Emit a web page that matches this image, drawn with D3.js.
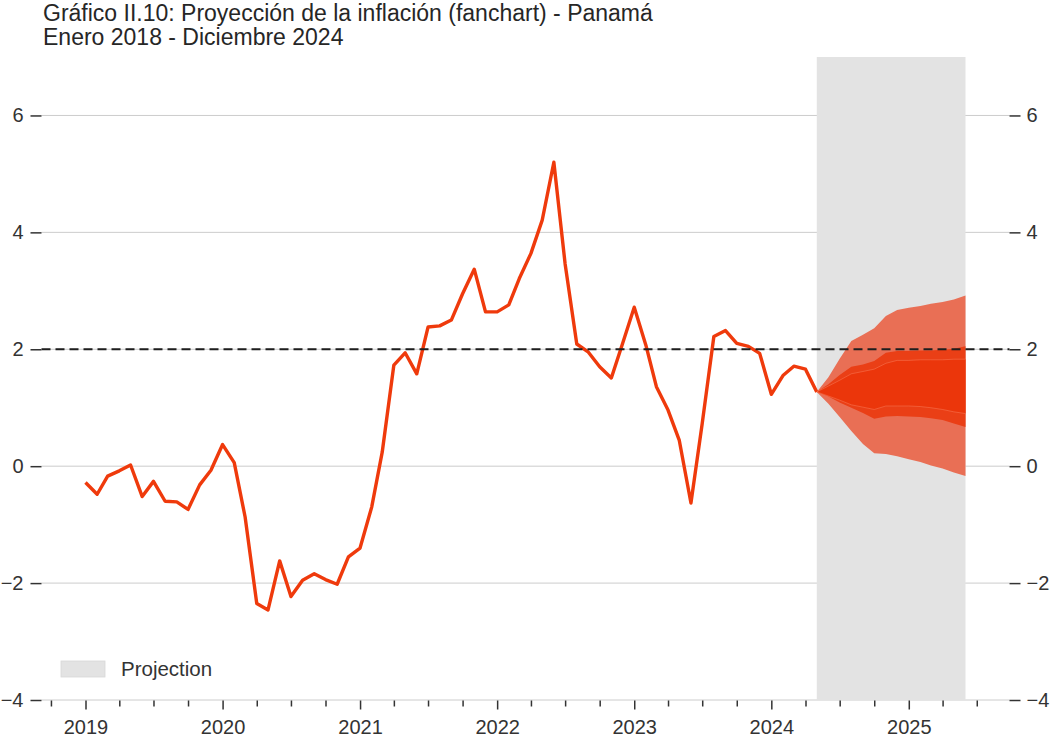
<!DOCTYPE html>
<html><head><meta charset="utf-8">
<script src="https://cdn.jsdelivr.net/npm/d3@7"></script>
<style>
body{margin:0;background:#fff}
text{font-family:"Liberation Sans",Arial,sans-serif}
</style>
</head><body>
<svg id="chart" width="1056" height="740"></svg>
<script>
// ---------------- DATA ----------------
const titleLines = ["Gráfico II.10: Proyección de la inflación (fanchart) - Panamá", "Enero 2018 - Diciembre 2024"];
const histStart = "2019-01";   // first month of observed series
const projStart = "2024-05";   // first month of projection (last observed month)
// Observed inflation (%), monthly Jan 2019 - May 2024
const inflation = [
  -0.28,-0.48,-0.17,-0.08,0.02,-0.52,-0.26,-0.60,-0.61,-0.74,-0.32,-0.07,
  0.37,0.06,-0.87,-2.35,-2.46,-1.62,-2.23,-1.95,-1.84,-1.94,-2.02,-1.55,
  -1.40,-0.70,0.24,1.73,1.94,1.58,2.38,2.40,2.50,2.95,3.37,2.64,
  2.64,2.76,3.21,3.64,4.21,5.20,3.46,2.09,1.95,1.70,1.51,2.10,
  2.72,2.07,1.36,0.96,0.44,-0.63,0.73,2.22,2.32,2.10,2.05,1.93,
  1.23,1.55,1.71,1.66,1.27
];
// Fan chart bands, monthly May 2024 - Jun 2025
const outerUpper  = [1.27,1.52,1.84,2.14,2.25,2.36,2.57,2.67,2.71,2.74,2.78,2.81,2.85,2.92];
const outerLower  = [1.27,1.07,0.84,0.60,0.38,0.22,0.21,0.17,0.12,0.07,0.01,-0.04,-0.11,-0.17];
const middleUpper = [1.27,1.40,1.56,1.70,1.74,1.80,1.94,1.97,1.97,1.98,1.98,1.99,2.01,2.05];
const middleLower = [1.27,1.19,1.09,1.00,0.91,0.81,0.85,0.86,0.85,0.84,0.82,0.79,0.73,0.67];
const innerUpper  = [1.27,1.37,1.47,1.58,1.62,1.66,1.76,1.81,1.81,1.82,1.82,1.82,1.83,1.83];
const innerLower  = [1.27,1.20,1.13,1.05,1.01,0.97,1.03,1.03,1.03,1.02,1.00,0.97,0.93,0.90];
const target = 2;
const yTicks = [-4,-2,0,2,4,6];
const yearTicks = [2019,2020,2021,2022,2023,2024,2025];
const legendLabel = "Projection";

// ---------------- BUILD ----------------
const parseM = d3.timeParse("%Y-%m");
const h0 = parseM(histStart), p0 = parseM(projStart);
const histDates = inflation.map((_, i) => d3.timeMonth.offset(h0, i));
const projDates = outerUpper.map((_, i) => d3.timeMonth.offset(p0, i));

const svg = d3.select("#chart");
const L = 41.5, R = 1009.5, T = 57, B = 700;
const tFirst = histDates[0], tLast = projDates[projDates.length - 1];
const span = tLast - tFirst;
const x = d3.scaleTime()
  .domain([new Date(+tFirst - 0.05 * span), new Date(+tLast + 0.05 * span)])
  .range([L, R]);
const y = d3.scaleLinear().domain([-4, 7]).range([B, T]);

// gridlines
svg.append("g").selectAll("line").data(yTicks).join("line")
  .attr("x1", L).attr("x2", R)
  .attr("y1", d => y(d)).attr("y2", d => y(d))
  .attr("stroke", "#cccccc").attr("stroke-width", 1);

// projection shading
svg.append("rect")
  .attr("x", x(projDates[0])).attr("y", T)
  .attr("width", x(tLast) - x(projDates[0])).attr("height", B - T)
  .attr("fill", "#e3e3e3");

// observed line
svg.append("path").datum(inflation)
  .attr("d", d3.line().x((d, i) => x(histDates[i])).y(d => y(d)))
  .attr("fill", "none").attr("stroke", "#ef3a0c")
  .attr("stroke-width", 3.4).attr("stroke-linejoin", "round");

// fan bands
function band(up, lo, color) {
  const a = d3.area().x((d, i) => x(projDates[i])).y0((d, i) => y(lo[i])).y1(d => y(d));
  svg.append("path").datum(up).attr("d", a).attr("fill", color);
}
band(outerUpper, outerLower, "#e96f55");
band(middleUpper, middleLower, "#ea3f16");
band(innerUpper, innerLower, "#eb360b");
// faint seams between inner and middle bands
[innerUpper, innerLower].forEach(arr => {
  svg.append("path").datum(arr)
    .attr("d", d3.line().x((d, i) => x(projDates[i])).y(d => y(d)))
    .attr("fill", "none").attr("stroke", "rgba(255,150,120,0.45)").attr("stroke-width", 0.8);
});

// target dashed line
svg.append("line")
  .attr("x1", L).attr("x2", R).attr("y1", y(target)).attr("y2", y(target))
  .attr("stroke", "#1e1e1e").attr("stroke-width", 1.8).attr("stroke-dasharray", "9,5");

// axes
function styleAxis(g) {
  g.select(".domain").remove();
  g.selectAll(".tick line").attr("stroke", "#333").attr("stroke-width", 1.5);
  g.selectAll(".tick text").attr("fill", "#333").attr("font-size", 20)
    .attr("font-family", '"Liberation Sans",Arial,sans-serif');
}
svg.append("g").attr("transform", `translate(${L},0)`)
  .call(d3.axisLeft(y).tickValues(yTicks).tickSize(11).tickPadding(7))
  .call(styleAxis);
svg.append("g").attr("transform", `translate(${R},0)`)
  .call(d3.axisRight(y).tickValues(yTicks).tickSize(11).tickPadding(6))
  .call(styleAxis);

const quarterTicks = d3.timeMonth.every(3).range(x.domain()[0], x.domain()[1])
  .filter(d => d.getMonth() !== 0);
svg.append("g").attr("transform", `translate(0,${B + 0.5})`)
  .call(d3.axisBottom(x).tickValues(quarterTicks).tickSize(6).tickFormat(""))
  .call(styleAxis);
svg.append("g").attr("transform", `translate(0,${B + 0.5})`)
  .call(d3.axisBottom(x).tickValues(yearTicks.map(yr => new Date(yr, 0, 1)))
    .tickSize(9).tickPadding(10).tickFormat(d3.timeFormat("%Y")))
  .call(styleAxis);

// title
svg.append("g").selectAll("text").data(titleLines).join("text")
  .attr("x", 43).attr("y", (d, i) => 21 + i * 24)
  .attr("font-size", 23).attr("fill", "#262626").text(d => d);

// legend
svg.append("rect").attr("x", 61).attr("y", 661).attr("width", 44).attr("height", 16)
  .attr("fill", "#e3e3e3").attr("stroke", "#d8d8d8").attr("stroke-width", 0.8);
svg.append("text").attr("x", 121).attr("y", 676).attr("font-size", 20.5)
  .attr("fill", "#333").text(legendLabel);
</script>
</body></html>
